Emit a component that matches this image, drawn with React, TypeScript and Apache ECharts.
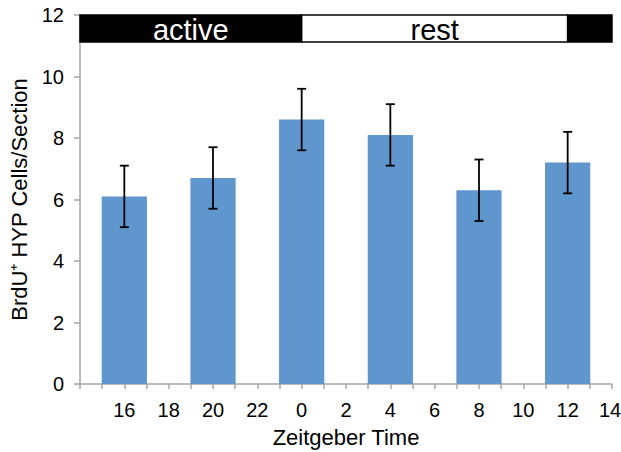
import React, { useEffect, useRef } from "react";
import * as echarts from "echarts";

const hours = [16, 20, 24, 28, 32, 36];
const means = [6.1, 6.7, 8.6, 8.1, 6.3, 7.2];
const errors = [1.0, 1.0, 1.0, 1.0, 1.0, 1.0];
const phaseStarts = [14, 24, 36];
const phaseEnds = [24, 36, 38];
const phaseNames = ["active", "rest", ""];
const phaseDark = [true, false, true];

const FONT = "Liberation Sans, Arial, sans-serif";

export default function App() {
  const ref = useRef<HTMLDivElement>(null);
  useEffect(() => {
    if (!ref.current) return;
    const chart = echarts.init(ref.current, undefined, { renderer: "svg" });
    const barData = hours.map((h, i) => [h, means[i], errors[i]]);
    const phaseData = phaseStarts.map((s, i) => [s, phaseEnds[i], i]);
    chart.setOption({
      animation: false,
      textStyle: { fontFamily: FONT },
      grid: { left: 80, right: 9, top: 15, bottom: 68, outerBoundsMode: "none", containLabel: false },
      xAxis: {
        type: "value",
        min: 14,
        max: 38,
        interval: 1,
        name: "Zeitgeber Time",
        nameLocation: "middle",
        nameGap: 42,
        nameTextStyle: { fontSize: 22, color: "#000", fontFamily: FONT },
        axisLine: { lineStyle: { color: "#a6a6a6", width: 1.5 } },
        axisTick: { show: true, length: 5, lineStyle: { color: "#a6a6a6", width: 1.5 } },
        splitLine: { show: false },
        axisLabel: {
          fontSize: 20,
          color: "#000",
          margin: 16,
          fontFamily: FONT,
          showMinLabel: true,
          showMaxLabel: true,
          formatter: (v: number) =>
            v === 38 ? "{r|14}" : v % 2 === 0 && v !== 14 ? String(v % 24) : "",
          rich: { r: { fontSize: 20, color: "#000", fontFamily: FONT, padding: [0, 4, 0, 0] } },
        },
      },
      yAxis: {
        type: "value",
        min: 0,
        max: 12,
        interval: 2,
        name: "BrdU⁺ HYP Cells/Section",
        nameLocation: "middle",
        nameGap: 48,
        nameTextStyle: { fontSize: 22, color: "#000", fontFamily: FONT },
        axisLine: { show: true, lineStyle: { color: "#a6a6a6", width: 1.5 } },
        axisTick: { show: true, length: 6, lineStyle: { color: "#a6a6a6", width: 1.5 } },
        splitLine: { show: false },
        axisLabel: { fontSize: 20, color: "#000", margin: 16, fontFamily: FONT },
      },
      series: [
        {
          type: "custom",
          data: barData,
          encode: { x: 0, y: 1 },
          renderItem: (params: any, api: any) => {
            const x = api.value(0);
            const y = api.value(1);
            const e = api.value(2);
            const p0 = api.coord([x - 1.02, 0]);
            const p1 = api.coord([x + 1.02, y]);
            const top = api.coord([x, y + e]);
            const bot = api.coord([x, y - e]);
            const cap = 4.5;
            return {
              type: "group",
              children: [
                {
                  type: "rect",
                  shape: { x: p0[0], y: p1[1], width: p1[0] - p0[0], height: p0[1] - p1[1] },
                  style: { fill: "#5f96cd" },
                },
                {
                  type: "line",
                  shape: { x1: top[0], y1: top[1], x2: bot[0], y2: bot[1] },
                  style: { stroke: "#000", lineWidth: 1.8 },
                },
                {
                  type: "line",
                  shape: { x1: top[0] - cap, y1: top[1], x2: top[0] + cap, y2: top[1] },
                  style: { stroke: "#000", lineWidth: 1.8 },
                },
                {
                  type: "line",
                  shape: { x1: bot[0] - cap, y1: bot[1], x2: bot[0] + cap, y2: bot[1] },
                  style: { stroke: "#000", lineWidth: 1.8 },
                },
              ],
            };
          },
        },
        {
          type: "custom",
          data: phaseData,
          encode: { x: [0, 1] },
          renderItem: (params: any, api: any) => {
            const s = api.value(0);
            const en = api.value(1);
            const idx = api.value(2);
            const a = api.coord([s, 12]);
            const b = api.coord([en, 11.12]);
            const dark = phaseDark[idx];
            return {
              type: "group",
              children: [
                {
                  type: "rect",
                  shape: { x: a[0], y: a[1], width: b[0] - a[0], height: b[1] - a[1] },
                  style: { fill: dark ? "#000" : "#fff", stroke: "#000", lineWidth: 1.5 },
                },
                {
                  type: "text",
                  style: {
                    text: phaseNames[idx],
                    x: (a[0] + b[0]) / 2,
                    y: (a[1] + b[1]) / 2 + 1,
                    align: "center",
                    verticalAlign: "middle",
                    fill: dark ? "#fff" : "#000",
                    fontSize: 29,
                    fontFamily: FONT,
                  },
                },
              ],
            };
          },
        },
      ],
    });
    return () => chart.dispose();
  }, []);
  return <div ref={ref} style={{ width: 621, height: 452, position: "absolute", left: 0, top: 0 }} />;
}
